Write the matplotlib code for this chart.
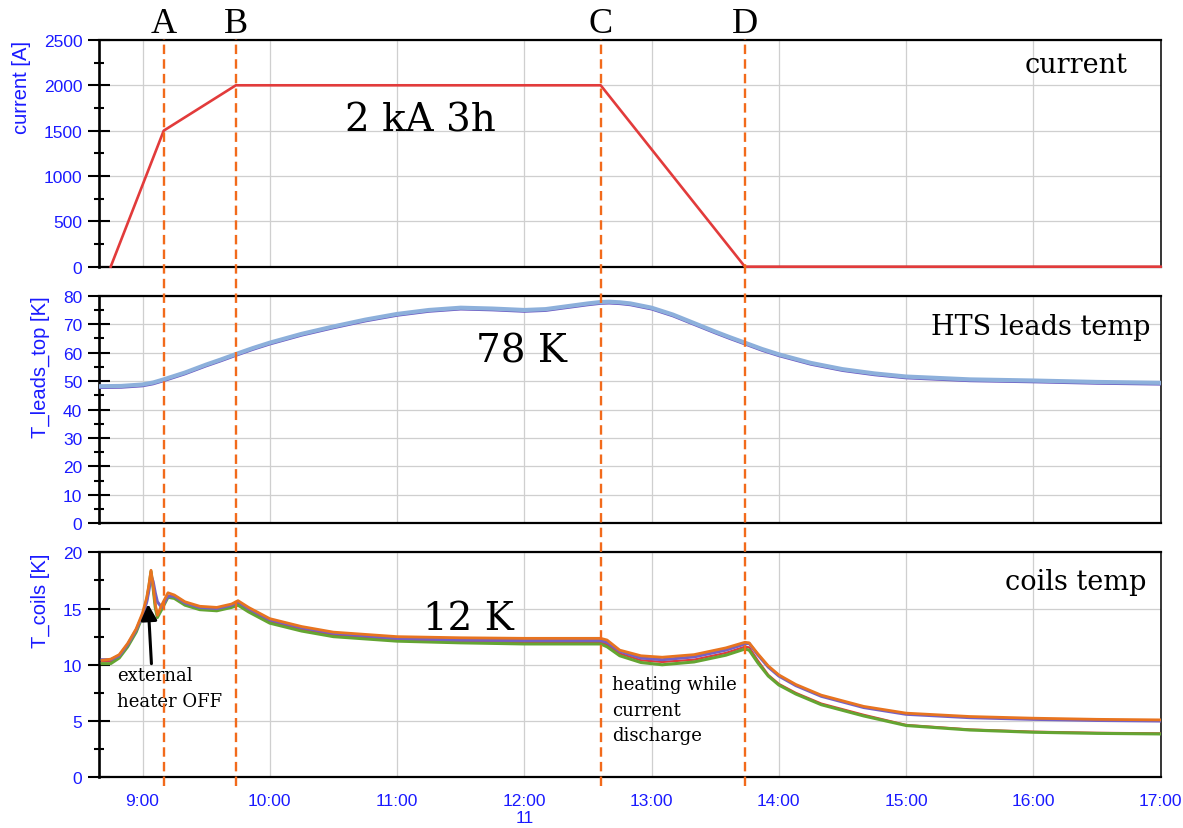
import matplotlib

matplotlib.use("Agg")

import matplotlib.pyplot as plt
import numpy as np
from matplotlib.lines import Line2D
from matplotlib.ticker import FuncFormatter, MultipleLocator
from matplotlib.transforms import ScaledTranslation, blended_transform_factory

# --- logged data (clock time of day) ---------------------------------------
current_time = ["8:45", "9:10", "9:44", "12:36", "13:44", "17:00"]
current_amps = [0, 1500, 2000, 2000, 0, 0]

leads_time = [
    "8:40", "8:50", "9:00", "9:05", "9:10", "9:20", "9:30", "9:37", "9:44",
    "9:52", "10:00", "10:15", "10:30", "10:45", "11:00", "11:15", "11:30",
    "11:45", "12:00", "12:10", "12:20", "12:30", "12:36", "12:40", "12:45",
    "12:50", "13:00", "13:10", "13:20", "13:30", "13:37", "13:44", "13:52",
    "14:00", "14:15", "14:30", "14:45", "15:00", "15:30", "16:00", "16:30",
    "17:00",
]
leads_top = [
    48.2, 48.3, 48.8, 49.5, 50.6, 53.0, 55.8, 57.6, 59.5,
    61.6, 63.5, 66.6, 69.2, 71.6, 73.6, 75.0, 75.8,
    75.5, 75.0, 75.3, 76.3, 77.3, 77.8, 77.9, 77.7,
    77.3, 75.8, 73.4, 70.4, 67.4, 65.4, 63.5, 61.3,
    59.4, 56.4, 54.2, 52.7, 51.6, 50.6, 50.2, 49.7,
    49.4,
]

coils_time = [
    "8:41", "8:45", "8:49", "8:53", "8:57", "9:00", "9:02", "9:03", "9:04",
    "9:05", "9:06", "9:07", "9:09", "9:12", "9:15", "9:20", "9:27", "9:35",
    "9:42", "9:45", "9:50", "10:00", "10:15", "10:30", "11:00", "11:30",
    "12:00", "12:36", "12:39", "12:45", "12:55", "13:05", "13:20", "13:35",
    "13:44", "13:46", "13:50", "13:55", "14:00", "14:08", "14:20", "14:40",
    "15:00", "15:30", "16:00", "16:30", "17:00",
]
coil_orange = [
    10.4, 10.5, 10.9, 11.9, 13.2, 14.6, 16.0, 17.1, 18.4,
    17.0, 15.4, 14.4, 15.3, 16.4, 16.2, 15.6, 15.2, 15.1,
    15.4, 15.7, 15.1, 14.1, 13.4, 12.9, 12.5, 12.4,
    12.35, 12.35, 12.2, 11.3, 10.8, 10.67, 10.9, 11.5,
    12.0, 11.95, 11.0, 9.9, 9.1, 8.25, 7.3, 6.3,
    5.7, 5.4, 5.25, 5.15, 5.1,
]
coil_purple = [
    10.45, 10.45, 10.8, 11.8, 13.1, 14.4, 15.6, 16.6, 17.9,
    17.4, 16.4, 15.6, 15.1, 16.1, 16.1, 15.5, 15.1, 15.0,
    15.3, 15.6, 15.0, 14.0, 13.3, 12.8, 12.35, 12.2,
    12.15, 12.15, 12.0, 11.2, 10.6, 10.45, 10.7, 11.3,
    11.85, 11.9, 10.9, 9.8, 9.0, 8.15, 7.2, 6.2,
    5.6, 5.3, 5.15, 5.05, 5.0,
]
coil_red = [
    10.3, 10.3, 10.7, 11.7, 13.0, 14.4, 15.8, 16.9, 18.2,
    16.9, 15.3, 14.4, 15.0, 16.1, 16.0, 15.4, 15.0, 14.9,
    15.2, 15.45, 14.85, 13.85, 13.15, 12.65, 12.2, 12.05,
    12.0, 12.0, 11.8, 11.0, 10.4, 10.25, 10.45, 11.05,
    11.6, 11.55, 10.4, 9.1, 8.3, 7.5, 6.55, 5.55,
    4.65, 4.25, 4.05, 3.95, 3.9,
]
coil_green = [
    10.1, 10.1, 10.6, 11.6, 12.9, 14.3, 15.8, 16.9, 18.3,
    16.8, 15.1, 14.2, 14.9, 16.0, 15.9, 15.3, 14.9, 14.8,
    15.1, 15.3, 14.7, 13.7, 13.0, 12.5, 12.1, 11.95,
    11.85, 11.85, 11.6, 10.8, 10.2, 10.0, 10.25, 10.85,
    11.4, 11.3, 10.2, 9.0, 8.2, 7.4, 6.45, 5.45,
    4.6, 4.2, 4.0, 3.9, 3.85,
]

event_time = ["9:10", "9:44", "12:36", "13:44"]
event_label = ["A", "B", "C", "D"]

BLUE = "#1a1aff"
SERIF = "DejaVu Serif"
SANS = "Liberation Sans"


def hours(stamps):
    out = []
    for stamp in stamps:
        h, m = stamp.split(":")
        out.append(int(h) + int(m) / 60.0)
    return np.array(out)


def clock_label(value, _pos):
    hour = int(round(value))
    label = f"{hour}:00"
    if hour == 12:
        label += "\n11"
    return label


def style_axis(ax, ymax, major, minor, ylabel):
    ax.set_xlim(8.66, 17.0)
    ax.set_ylim(0, ymax)
    ax.yaxis.set_major_locator(MultipleLocator(major))
    ax.yaxis.set_minor_locator(MultipleLocator(minor))
    ax.xaxis.set_major_locator(MultipleLocator(1))
    ax.xaxis.set_major_formatter(FuncFormatter(clock_label))
    ax.grid(True, which="major", color="#cfcfcf", lw=0.9)
    ax.set_axisbelow(True)
    ax.tick_params(axis="y", which="major", direction="inout", length=15.8,
                   width=1.5, pad=4.3, labelcolor=BLUE, labelsize=12.5)
    ax.tick_params(axis="y", which="minor", direction="inout", length=7.2, width=1.5)
    ax.tick_params(axis="x", length=0, labelcolor=BLUE, labelsize=12.5, pad=11)
    for label in ax.get_xticklabels() + ax.get_yticklabels():
        label.set_fontfamily(SANS)
    ax.spines["left"].set_linewidth(1.9)
    ax.spines["top"].set_linewidth(1.6)
    ax.spines["bottom"].set_linewidth(1.6)
    ax.spines["right"].set_linewidth(1.1)
    ax.set_ylabel(ylabel, color=BLUE, fontsize=14.5, family=SANS, labelpad=9,
                  loc="top")


fig = plt.figure(figsize=(11.83, 8.29), dpi=100)
ax1 = fig.add_axes([0.0839, 0.6771, 0.8972, 0.2735])
ax2 = fig.add_axes([0.0839, 0.3675, 0.8972, 0.2745])
ax3 = fig.add_axes([0.0839, 0.0612, 0.8972, 0.2714])

style_axis(ax1, 2500, 500, 250, "current [A]")
style_axis(ax2, 80, 10, 5, "T_leads_top [K]")
style_axis(ax3, 20, 5, 2.5, "T_coils [K]")
ax1.tick_params(axis="x", labelbottom=False)
ax2.tick_params(axis="x", labelbottom=False)

# current ramp
ax1.plot(hours(current_time), current_amps, color="#e23b3b", lw=1.9,
         zorder=3, clip_on=False)

# lead temperature: thin second sensor trace peeking under the main one
t_leads = hours(leads_time)
shift = ax2.transData + ScaledTranslation(0, -1.3 / 72, fig.dpi_scale_trans)
ax2.plot(t_leads, leads_top, color="#6a56c2", lw=1.4, transform=shift, zorder=3)
ax2.plot(t_leads, leads_top, color="#8db0db", lw=3.0, zorder=3)

# coil temperatures (red drawn thin under green so only its edge shows)
t_coils = hours(coils_time)
for values, colour, width in [(coil_red, "#e03a3a", 1.6), (coil_green, "#64a532", 2.2),
                              (coil_purple, "#7461c4", 2.2), (coil_orange, "#e8741f", 2.0)]:
    ax3.plot(t_coils, values, color=colour, lw=width, zorder=3,
             solid_joinstyle="round")

# event markers spanning all three panels
span = blended_transform_factory(ax3.transData, fig.transFigure)
for stamp, letter in zip(event_time, event_label):
    x = hours([stamp])[0]
    fig.add_artist(Line2D([x, x], [0.0507, 0.9517], transform=span,
                          color="#f26a1b", lw=1.7, dashes=(4.0, 2.2), zorder=5))
    ax1.text(x, 1.035, letter, transform=ax1.get_xaxis_transform(),
             ha="center", va="baseline", fontsize=26, family="Liberation Serif",
             clip_on=False)

# panel captions
ax1.text(0.969, 0.859, "current", transform=ax1.transAxes, ha="right",
         va="baseline", fontsize=19.5, family=SERIF)
ax2.text(0.990, 0.832, "HTS leads temp", transform=ax2.transAxes, ha="right",
         va="baseline", fontsize=19.5, family=SERIF)
ax3.text(0.987, 0.837, "coils temp", transform=ax3.transAxes, ha="right",
         va="baseline", fontsize=19.5, family=SERIF)

ax1.text(11.18, 1500, "2 kA 3h", ha="center", va="baseline", fontsize=28, family=SERIF)
ax2.text(11.98, 57, "78 K", ha="center", va="baseline", fontsize=28, family=SERIF)
ax3.text(11.56, 13.2, "12 K", ha="center", va="baseline", fontsize=28, family=SERIF)

ax3.annotate("", xy=(9.044, 15.4), xytext=(9.07, 10.1),
             arrowprops=dict(arrowstyle="-|>", color="black", lw=2.2,
                             mutation_scale=24, shrinkA=0, shrinkB=0), zorder=6)
ax3.text(8.80, 9.85, "external\nheater OFF", ha="left", va="top", fontsize=13,
         family=SERIF, linespacing=1.55)
ax3.text(12.69, 9.1, "heating while\ncurrent\ndischarge", ha="left", va="top",
         fontsize=13, family=SERIF, linespacing=1.55)

fig.savefig("out.png", dpi=100)
